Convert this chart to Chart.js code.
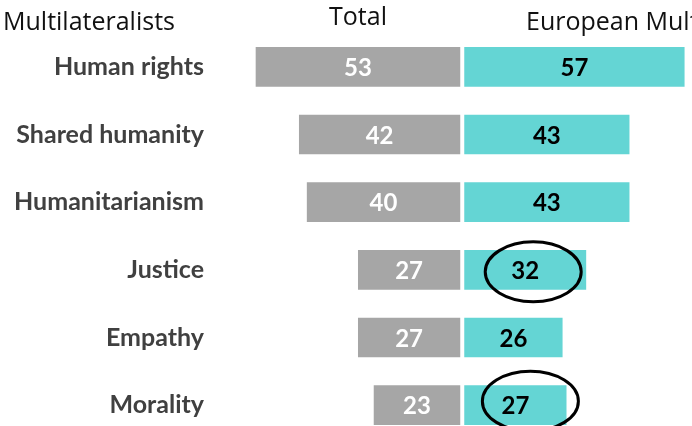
<!DOCTYPE html>
<html>
<head>
<meta charset="utf-8">
<script src="https://cdn.jsdelivr.net/npm/chart.js@4.4.1/dist/chart.umd.min.js"></script>
<style>
    html, body { margin: 0; padding: 0; background: #fff; overflow: hidden; }
    canvas { display: block; }
</style>
</head>
<body>
<canvas id="chart" width="692" height="440"></canvas>
<script>
document.addEventListener('DOMContentLoaded', init);

const categories = ['Human rights', 'Shared humanity', 'Humanitarianism', 'Justice', 'Empathy', 'Morality'];
const totalValues = [53, 42, 40, 27, 27, 23];
const europeanValues = [57, 43, 43, 32, 26, 27];
const headers = ['Multilateralists', 'Total', 'European Multilateralists'];
const circled = [3, 5]; // rows whose European value is ringed

const GREY = '#a6a6a6';
const TEAL = '#64d5d4';
const BOLD_FONT = 'Lato, "Open Sans", sans-serif';
const HEAD_FONT = '"Open Sans", Lato, sans-serif';

let canvas, ctx;

function init() {
    canvas = document.getElementById('chart');
    ctx = canvas.getContext('2d');
    createButterfly();
}

// value labels, headers and the hand-drawn rings
const overlay = {
    id: 'overlay',
    afterDatasetsDraw(chart) {
        const c = chart.ctx;
        c.save();
        c.font = 'bold 24px ' + BOLD_FONT;
        c.textAlign = 'center';
        c.textBaseline = 'alphabetic';
        chart.data.datasets.forEach((ds, i) => {
            chart.getDatasetMeta(i).data.forEach((bar, j) => {
                c.fillStyle = i === 0 ? '#ffffff' : '#000000';
                const x = (bar.x + bar.base) / 2;
                c.fillText(Math.abs(ds.data[j]), x, bar.y + 9);
            });
        });

        // rings around highlighted values (hand drawn, a bit off-centre)
        c.strokeStyle = '#000';
        c.lineWidth = 3;
        const meta = chart.getDatasetMeta(1);
        const nudge = { 3: [8, 2], 5: [15, -4] };
        circled.forEach(j => {
            const bar = meta.data[j];
            const cx = (bar.x + bar.base) / 2 + nudge[j][0];
            c.beginPath();
            c.ellipse(cx, bar.y + nudge[j][1], 48, 30, 0, 0, Math.PI * 2);
            c.stroke();
        });

        // column headers
        c.font = '25px ' + HEAD_FONT;
        c.fillStyle = '#111';
        c.textAlign = 'left';
        c.fillText(headers[0], 3, 30);
        c.textAlign = 'center';
        c.fillText(headers[1], 358, 25);
        c.textAlign = 'left';
        c.fillText(headers[2], 526, 30);
        c.restore();
    }
};

function createButterfly() {
    new Chart(ctx, {
        type: 'bar',
        data: {
            labels: categories,
            datasets: [
                {
                    label: headers[1],
                    data: totalValues.map(v => -v),
                    backgroundColor: GREY
                },
                {
                    label: headers[2],
                    data: europeanValues,
                    backgroundColor: TEAL
                }
            ]
        },
        options: {
            indexAxis: 'y',
            responsive: false,
            animation: false,
            layout: {
                padding: { top: 33, right: 1.5, bottom: 1, left: 0 }
            },
            datasets: {
                bar: {
                    barPercentage: 0.645,
                    categoryPercentage: 1,
                    borderColor: '#ffffff',
                    borderWidth: 2,
                    borderSkipped: false
                }
            },
            plugins: {
                legend: { display: false },
                tooltip: { enabled: false }
            },
            scales: {
                x: {
                    stacked: true,
                    display: false,
                    min: -58,
                    max: 58
                },
                y: {
                    stacked: true,
                    grid: { display: false, drawTicks: false },
                    border: { display: false },
                    ticks: {
                        padding: 30,
                        color: '#404040',
                        font: { family: BOLD_FONT, size: 25, weight: 'bold' }
                    },
                    afterFit(scale) {
                        scale.width = 234;
                        scale.paddingTop = 0;
                        scale.paddingBottom = 0;
                    }
                }
            }
        },
        plugins: [overlay]
    });
}
</script>
</body>
</html>
